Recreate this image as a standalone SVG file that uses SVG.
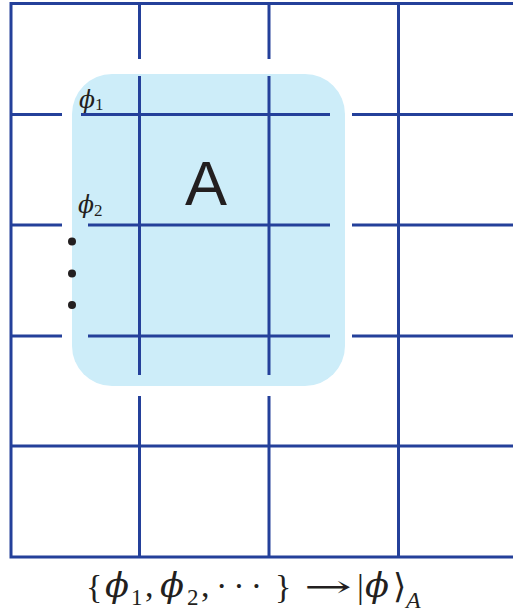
<svg xmlns="http://www.w3.org/2000/svg" width="513" height="614" viewBox="0 0 513 614">
<style>
.g{stroke:#24409a;stroke-width:3;fill:none}
.m{font-family:"Liberation Serif","DejaVu Serif",serif;fill:#231f20}
.p{font-family:"DejaVu Serif",serif;font-style:italic;fill:#231f20}
</style>
<rect width="513" height="614" fill="#fff"/>
<g id="region">
<rect x="72" y="74" width="273" height="312" rx="40" ry="40" fill="#cdedf9"/>
</g>
<g id="grid" class="g">
<path d="M11,3.5 H513 M11,2 V558.5 M11,557 H513 M11,446 H513 M398.5,2 V557"/>
<path d="M11,114.5 H62 M81,114.5 H330 M352,114.5 H513"/>
<path d="M11,225 H62 M88,225 H330 M352,225 H513"/>
<path d="M11,336 H62 M88,336 H330 M352,336 H513"/>
<path d="M139.5,3 V59 M139.5,76 V375 M139.5,396 V557"/>
<path d="M269,3 V59 M269,76 V375 M269,396 V557"/>
</g>
<g id="dots" fill="#231f20">
<circle cx="72" cy="241.5" r="4"/>
<circle cx="72" cy="273.5" r="4"/>
<circle cx="72" cy="305" r="4"/>
</g>
<g id="labels">
<text class="p" x="79" y="108" font-size="24" textLength="16" lengthAdjust="spacingAndGlyphs">ϕ</text>
<text class="m" x="95" y="110" font-size="17">1</text>
<text class="p" x="78" y="213" font-size="24" textLength="16" lengthAdjust="spacingAndGlyphs">ϕ</text>
<text class="m" x="94" y="216" font-size="17">2</text>
<text x="206" y="205" font-family="Liberation Sans,Arial,sans-serif" font-size="63" fill="#231f20" text-anchor="middle">A</text>
</g>
<g id="formula" class="m" font-size="34">
<text x="86" y="598">{</text>
<text class="p" x="105" y="597" textLength="24" lengthAdjust="spacingAndGlyphs">ϕ</text>
<text x="131" y="605" font-size="23">1</text>
<text x="145" y="597">,</text>
<text class="p" x="160" y="597" textLength="24" lengthAdjust="spacingAndGlyphs">ϕ</text>
<text x="187" y="605" font-size="23">2</text>
<text x="201" y="597">,</text>
<text x="216" y="597" textLength="46" lengthAdjust="spacing">···</text>
<text x="275" y="598">}</text>
<text x="304" y="597" font-family="DejaVu Serif,serif" font-size="30" textLength="48" lengthAdjust="spacingAndGlyphs">→</text>
<text x="357" y="598">|</text>
<text class="p" x="365" y="597" textLength="24" lengthAdjust="spacingAndGlyphs">ϕ</text>
<text x="393" y="598" font-family="DejaVu Serif,serif">⟩</text>
<text class="m" x="406" y="608" font-size="24" font-style="italic">A</text>
</g>
</svg>
